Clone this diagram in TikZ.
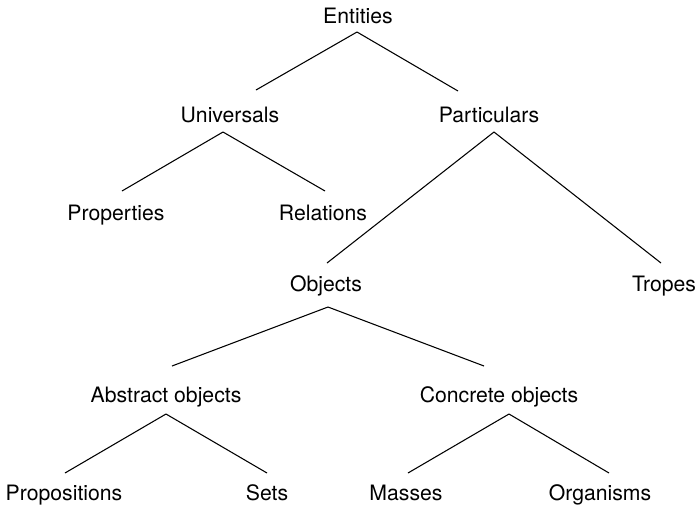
\documentclass[tikz,border=0pt]{standalone}
\usepackage{fontspec}
\setmainfont{TeX Gyre Heros}
\usetikzlibrary{calc}

\begin{document}
\begin{tikzpicture}[x=0.75pt, y=-0.75pt, line width=0.8pt,
		every node/.style={anchor=base, inner sep=0pt, font=\fontsize{15.9}{19}\selectfont}]
			\useasboundingbox (0,0) rectangle (697,512);
			% top
			\node (E) at (358, 23) {Entities};
			\node (U) at (230, 122) {Universals};
			\node (Pa) at (489, 122) {Particulars};
			\draw ($(E.base)+(-1,9)$) -- ($(U.base)+(26,-32)$);
			\draw ($(E.base)+(-1,9)$) -- ($(Pa.base)+(-31,-31)$);
			
			% universals
			\node (Prop) at (116, 220) {Properties};
			\node (Rel) at (323, 220) {Relations};
			\draw ($(U.base)+(-7,10)$) -- ($(Prop.base)+(6,-29)$);
			\draw ($(U.base)+(-7,10)$) -- ($(Rel.base)+(2,-29)$);
			
			% particulars
			\node (Obj) at (326, 291) {Objects};
			\node (Tro) at (664, 291) {Tropes};
			\draw ($(Pa.base)+(5,10)$) -- ($(Obj.base)+(1,-28)$);
			\draw ($(Pa.base)+(5,10)$) -- ($(Tro.base)+(-3,-28)$);
			
			% objects
			\node (Abs) at (166, 402) {Abstract objects};
			\node (Con) at (499, 402) {Concrete objects};
			\draw ($(Obj.base)+(2,16)$) -- ($(Abs.base)+(6,-36)$);
			\draw ($(Obj.base)+(2,16)$) -- ($(Con.base)+(-15,-36)$);
			
			% bottom row
			\node (Pps) at (64, 500) {Propositions};
			\node (Set) at (267, 500) {Sets};
			\node (Mas) at (406, 500) {Masses};
			\node (Org) at (600, 500) {Organisms};
			\draw ($(Abs.base)+(0,12)$) -- ($(Pps.base)+(1,-27)$);
			\draw ($(Abs.base)+(0,12)$) -- ($(Set.base)+(0,-27)$);
			\draw ($(Con.base)+(10,12)$) -- ($(Mas.base)+(2,-27)$);
			\draw ($(Con.base)+(10,12)$) -- ($(Org.base)+(9,-27)$);
		\end{tikzpicture}
\end{document}
